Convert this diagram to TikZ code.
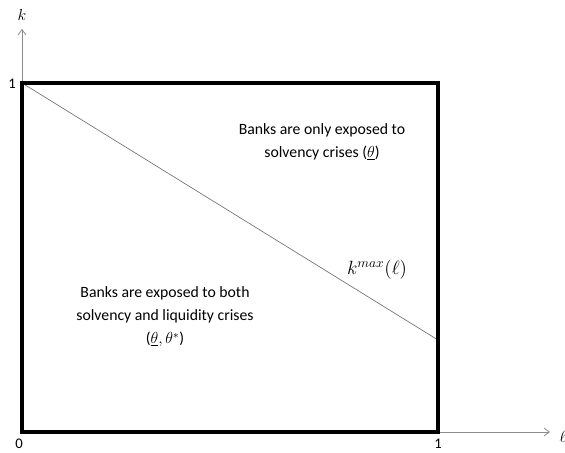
\documentclass[tikz,border=0pt]{standalone}
\usepackage{fontspec}
\setmainfont{Carlito}
\usetikzlibrary{arrows.meta}
\begin{document}
\begin{tikzpicture}[x=0.75pt,y=-0.75pt,
  axis/.style={draw=black!45, line width=0.6pt, -{Straight Barb[length=4pt,width=6pt]}},
  frame/.style={draw=black, line width=2.3pt},
  lbl/.style={font=\fontsize{11.8}{17.2}\selectfont, align=center, inner sep=0pt},
  tick/.style={font=\fontsize{11}{13}\selectfont, inner sep=0pt}]
\useasboundingbox (0,0) rectangle (565,453);
\coordinate (O) at (22,432);
\coordinate (TL) at (22,83);
\coordinate (BR) at (438,432);
\coordinate (Ytip) at (22,29);
\coordinate (Xtip) at (550,432);
\coordinate (D1) at (22,83);
\coordinate (D2) at (438,340);
\draw[axis] (TL) -- (Ytip);
\draw[axis] (BR) -- (Xtip);
\draw[draw=black!55, line width=0.5pt] (D1) -- (D2);
\draw[frame] (22,83) rectangle (438,432);
\node[tick, font=\fontsize{12}{14}\selectfont] (k) at (22,15) {$k$};
\node[tick, font=\fontsize{12}{14}\selectfont] (l) at (563,437) {$\ell$};
\node[tick] (one1) at (12,84) {1};
\node[tick] (zero) at (19,444) {0};
\node[tick] (one2) at (438,444) {1};
\node[lbl] (top) at (322,142) {Banks are only exposed to\\solvency crises ($\underline{\theta}$)};
\node[lbl] (bot) at (165,317) {Banks are exposed to both\\solvency and liquidity crises\\($\underline{\theta},\theta^{*}$)};
\node[tick, font=\fontsize{14}{16}\selectfont] (kmax) at (377,270) {$k^{max}(\ell)$};
\end{tikzpicture}
\end{document}
